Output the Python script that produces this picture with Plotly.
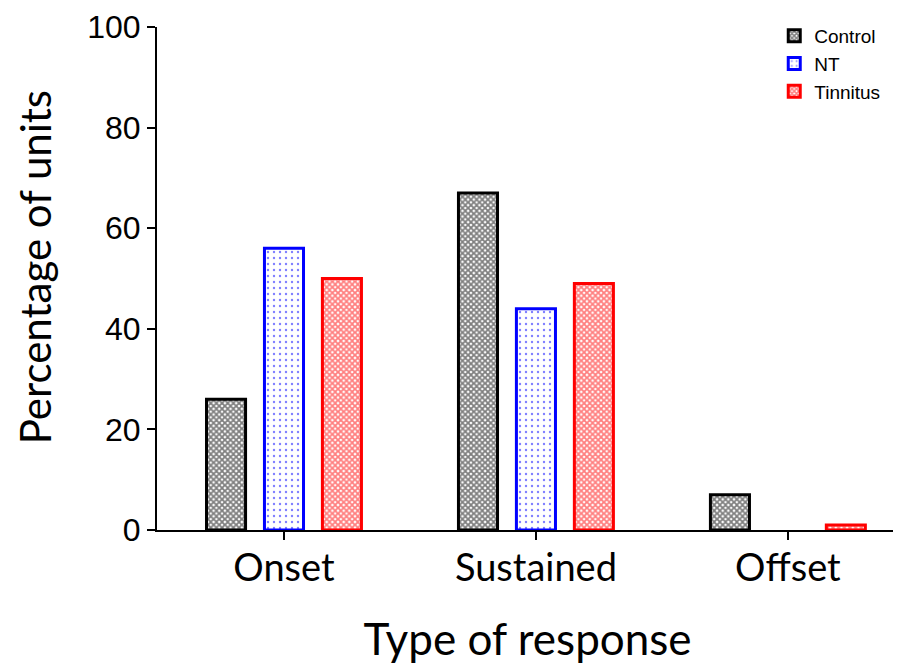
import plotly.graph_objects as go

categories = ["Onset", "Sustained", "Offset"]
control = [26, 67, 7]
nt = [56, 44, 0]
tinnitus = [50, 49, 1]
y_ticks = [0, 20, 40, 60, 80, 100]


def outline(vals):
    return [3 if v > 0 else 0 for v in vals]


fig = go.Figure()
fig.add_trace(go.Bar(
    x=categories, y=control, name="Control",
    marker=dict(color="white", line=dict(color="black", width=outline(control)),
                pattern=dict(shape="x", size=4, solidity=0.7, fgcolor="black", bgcolor="white")),
))
fig.add_trace(go.Bar(
    x=categories, y=nt, name="NT",
    marker=dict(color="white", line=dict(color="#0000ff", width=outline(nt)),
                pattern=dict(shape=".", size=6, solidity=0.12, fgcolor="#0000ff", bgcolor="white")),
))
fig.add_trace(go.Bar(
    x=categories, y=tinnitus, name="Tinnitus",
    marker=dict(color="white", line=dict(color="#ff0000", width=outline(tinnitus)),
                pattern=dict(shape="x", size=4, solidity=0.7, fgcolor="#ff0000", bgcolor="white")),
))

fig.add_annotation(
    text="Percentage of units", textangle=-90, showarrow=False,
    xref="paper", yref="paper", x=-0.165, y=0.5 + 11 / 503, xanchor="center", yanchor="middle",
    font=dict(family="Lato, Open Sans", size=42, color="black"), borderpad=0,
)

fig.update_layout(
    width=893, height=660,
    margin=dict(l=149, r=3, t=19, b=138),
    paper_bgcolor="white", plot_bgcolor="white",
    barmode="group", bargap=0.31, bargroupgap=0.326,
    legend=dict(x=0.833, y=1.02, xanchor="left", yanchor="top",
                font=dict(family="Liberation Sans, Arial", size=19, color="black"),
                bgcolor="rgba(0,0,0,0)", itemwidth=30),
    xaxis=dict(
        range=[-0.504, 2.437], showline=True, linecolor="black", linewidth=2,
        ticks="outside", ticklen=8, tickwidth=2, tickcolor="black",
        ticklabelstandoff=-5,
        tickfont=dict(family="Lato, Open Sans", size=38, color="black"),
        title=dict(text="Type of response", font=dict(family="Lato, Open Sans", size=44, color="black"), standoff=37),
        showgrid=False, zeroline=False, automargin=False,
    ),
    yaxis=dict(
        range=[0, 100], tickvals=y_ticks, showline=True, linecolor="black", linewidth=2,
        ticks="outside", ticklen=8, tickwidth=2, tickcolor="black",
        tickfont=dict(family="Liberation Sans, Arial", size=32, color="black"),
        showgrid=False, zeroline=False, automargin=False,
    ),
)

fig.write_html("out.html")
